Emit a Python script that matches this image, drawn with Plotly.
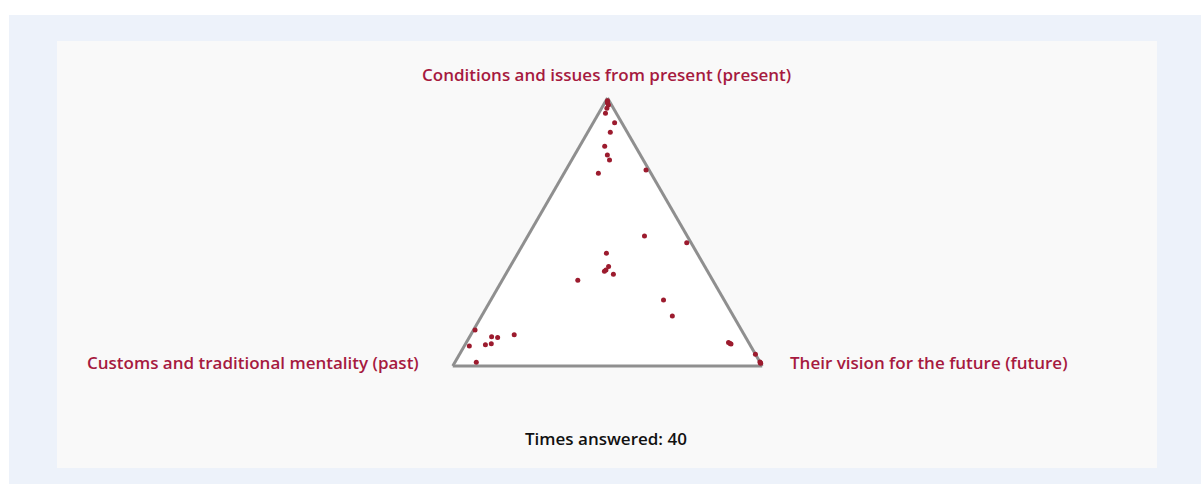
import plotly.graph_objects as go

# ternary positions of each answer: present (top), past (left), future (right)
present = [0.981, 0.974, 0.962, 0.943, 0.99, 0.985, 0.908, 0.872, 0.820, 0.787,
           0.769, 0.719, 0.731, 0.485, 0.460, 0.421, 0.371, 0.354, 0.358, 0.342,
           0.320, 0.246, 0.187, 0.134, 0.117, 0.109, 0.106, 0.075, 0.079, 0.083,
           0.014, 0.088, 0.082, 0.084, 0.044, 0.015, 0.010, 0.012]
past = [0.0095, 0.010, 0.021, 0.035, 0.005, 0.008, 0.023, 0.055, 0.099, 0.107,
        0.109, 0.170, 0.010, 0.138, 0.014, 0.293, 0.311, 0.333, 0.326, 0.310,
        0.436, 0.196, 0.197, 0.861, 0.743, 0.820, 0.802, 0.909, 0.855, 0.834,
        0.917, 0.065, 0.060, 0.062, 0.0, 0.0, 0.0, 0.0]
future = [1 - a - b for a, b in zip(present, past)]

label_present = "Conditions and issues from present (present)"
label_past = "Customs and traditional mentality (past)"
label_future = "Their vision for the future (future)"
answered = 40

W, H = 1201, 484
red = "#a61a3f"
label_font = dict(family="Open Sans", size=17, weight=600)

fig = go.Figure(go.Scatterternary(
    a=present, b=past, c=future,
    mode="markers",
    marker=dict(color="#9c1b2e", size=5),
    cliponaxis=False,
    hovertemplate="present: %{a:.2f}<br>past: %{b:.2f}<br>future: %{c:.2f}<extra></extra>",
))

axis_style = dict(showticklabels=False, showgrid=False, ticks="", linecolor="#8f8f8f",
                  linewidth=3, title=dict(text=""), min=0, layer="below traces")

fig.update_layout(
    width=W, height=H,
    margin=dict(l=0, r=0, t=0, b=0, pad=0),
    paper_bgcolor="white",
    plot_bgcolor="white",
    showlegend=False,
    ternary=dict(
        domain=dict(x=[452 / W, 763 / W], y=[1 - 366 / H, 1 - 98 / H]),
        bgcolor="white",
        sum=1,
        aaxis=axis_style, baxis=axis_style, caxis=axis_style,
    ),
    shapes=[
        dict(type="rect", xref="paper", yref="paper", x0=9 / W, x1=1, y0=0, y1=1 - 15 / H,
             fillcolor="#edf2fa", line=dict(width=0), layer="below"),
        dict(type="rect", xref="paper", yref="paper", x0=57 / W, x1=1157 / W,
             y0=1 - 468 / H, y1=1 - 41 / H,
             fillcolor="#f9f9f9", line=dict(width=0), layer="below"),
    ],
    font=dict(family="Open Sans", size=16),
)

fig.add_annotation(text=label_present, x=606 / W, y=1 - 75 / H,
                   xref="paper", yref="paper", showarrow=False,
                   font=dict(color=red, **label_font), xanchor="center", yanchor="middle")
fig.add_annotation(text=label_past, x=421 / W, y=1 - 362 / H,
                   xref="paper", yref="paper", showarrow=False,
                   font=dict(color=red, **label_font), xanchor="right", yanchor="middle")
fig.add_annotation(text=label_future, x=788 / W, y=1 - 362 / H,
                   xref="paper", yref="paper", showarrow=False,
                   font=dict(color=red, **label_font), xanchor="left", yanchor="middle")
fig.add_annotation(text=f"Times answered: {answered}", x=606 / W, y=1 - 438 / H,
                   xref="paper", yref="paper", showarrow=False,
                   font=dict(color="#111111", **label_font), xanchor="center", yanchor="middle")

# drop the page's default body margin so the figure sits at the window's corner
fig.write_html("out.html", config={"displayModeBar": False},
               post_script="document.body.style.margin = '0';")
